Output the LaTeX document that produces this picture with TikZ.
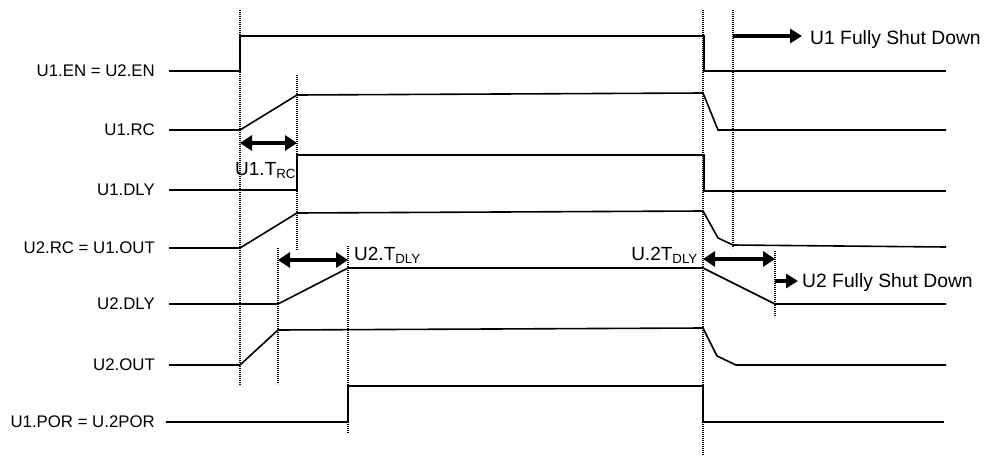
\documentclass[tikz,border=0pt]{standalone}
\usepackage{fontspec}
\setmainfont{Liberation Sans}
\usetikzlibrary{arrows.meta}
\begin{document}
\begin{tikzpicture}[x=1pt,y=-1pt,
  sig/.style={line width=1.6pt, line join=miter},
  guide/.style={line width=2.2pt, dash pattern=on 1.1pt off 0.9pt},
  lbl/.style={anchor=east, font=\fontsize{16.8}{18}\selectfont, inner sep=0pt},
  ann/.style={font=\fontsize{19}{21}\selectfont, inner sep=0pt},
  dimarrow/.style={line width=3.2pt, {Triangle[length=12pt,width=15pt]}-{Triangle[length=12pt,width=15pt]}},
  fwdarrow/.style={line width=3.2pt, -{Triangle[length=12pt,width=14pt]}}]
\useasboundingbox (0,0) rectangle (985,458);

% guide lines (dotted verticals)
\coordinate (gA1) at (240,10);  \coordinate (gA2) at (240,386);
\coordinate (gB1) at (297,75);  \coordinate (gB2) at (297,250);
\coordinate (gC1) at (278,248); \coordinate (gC2) at (278,384);
\coordinate (gD1) at (348,246); \coordinate (gD2) at (348,433);
\coordinate (gE1) at (703,10);  \coordinate (gE2) at (703,455);
\coordinate (gF1) at (733,10);  \coordinate (gF2) at (733,248);
\coordinate (gG1) at (775,251); \coordinate (gG2) at (775,317);
\foreach \g in {A,B,C,D,E,F,G} \draw[guide] (g\g1) -- (g\g2);

% row labels
\node[lbl] (lEN)   at (155,71)  {U1.EN = U2.EN};
\node[lbl] (lRC)   at (155,130) {U1.RC};
\node[lbl] (lDLY)  at (155,190) {U1.DLY};
\node[lbl] (lRC2)  at (155,248) {U2.RC = U1.OUT};
\node[lbl] (lDLY2) at (155,304) {U2.DLY};
\node[lbl] (lOUT2) at (155,365) {U2.OUT};
\node[lbl] (lPOR)  at (155,422) {U1.POR = U.2POR};

% waveforms
\draw[sig] (169,71) -- (240,71) -- (240,36) -- (704,36) -- (704,71) -- (946,71);
\draw[sig] (169,130) -- (240,130) -- (297,95) -- (703,93) -- (718,130) -- (946,130);
\draw[sig] (169,190) -- (297,190) -- (297,155) -- (704,155) -- (704,191) -- (946,191);
\draw[sig] (169,248) -- (240,248) -- (297,213) -- (703,211) -- (718,238) -- (733,245) -- (946,247);
\draw[sig] (169,304) -- (278,304) -- (348,268) -- (703,268) -- (775,304) -- (946,304);
\draw[sig] (169,365) -- (240,365) -- (278,330) -- (703,328) -- (717,356) -- (736,365) -- (946,365);
\draw[sig] (166,422) -- (348,422) -- (348,386) -- (703,386) -- (703,422) -- (944,422);

% timing arrows
\coordinate (aRC1) at (240,143); \coordinate (aRC2) at (297,143);
\coordinate (aD1) at (278,260);  \coordinate (aD2) at (348,260);
\coordinate (aS1) at (703,259);  \coordinate (aS2) at (775,259);
\coordinate (f1a) at (733,36);   \coordinate (f1b) at (802,36);
\coordinate (f2a) at (775,281);  \coordinate (f2b) at (798,281);
\draw[dimarrow] (aRC1) -- (aRC2);
\draw[dimarrow] (aD1) -- (aD2);
\draw[dimarrow] (aS1) -- (aS2);
\draw[fwdarrow] (f1a) -- (f1b);
\draw[fwdarrow] (f2a) -- (f2b);

% annotations
\node[ann, anchor=base west] (tRC)  at (235,175) {U1.T\textsubscript{RC}};
\node[ann, anchor=base west] (tD)   at (354,260) {U2.T\textsubscript{DLY}};
\node[ann, anchor=base east] (tS)   at (698,260) {U.2T\textsubscript{DLY}};
\node[ann, anchor=base west, font=\fontsize{19.3}{21}\selectfont] (tU1)  at (810,44)  {U1 Fully Shut Down};
\node[ann, anchor=base west, font=\fontsize{19.3}{21}\selectfont] (tU2)  at (802,287) {U2 Fully Shut Down};
\end{tikzpicture}
\end{document}
